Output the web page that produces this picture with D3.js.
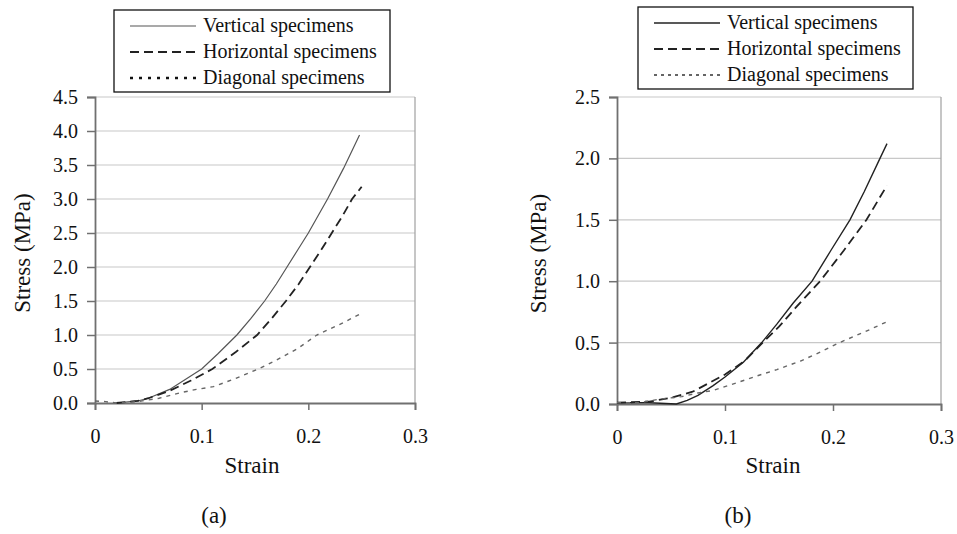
<!DOCTYPE html>
<html>
<head>
<meta charset="utf-8">
<script src="https://cdn.jsdelivr.net/npm/d3@7"></script>
</head>
<body style="margin:0; background:#fff">
<svg id="chart" width="957" height="534"></svg>
<script>
const seriesNames = ["Vertical specimens", "Horizontal specimens", "Diagonal specimens"];
const xTicks = [0, 0.1, 0.2, 0.3];

// panel (a)
const vertA = [[0.02,0],[0.04,0.03],[0.05,0.07],[0.07,0.2],[0.085,0.35],[0.1,0.5],[0.115,0.72],[0.133,1.0],[0.146,1.24],[0.159,1.5],[0.17,1.75],[0.18,2.0],[0.19,2.25],[0.2,2.5],[0.209,2.75],[0.218,3.0],[0.233,3.45],[0.248,3.94]];
const horA = [[0.02,0],[0.04,0.03],[0.05,0.07],[0.07,0.18],[0.09,0.33],[0.11,0.5],[0.132,0.75],[0.152,1.0],[0.166,1.25],[0.179,1.5],[0.191,1.75],[0.2015,2.0],[0.212,2.25],[0.222,2.5],[0.232,2.75],[0.241,3.0],[0.25,3.18]];
const diagA = [[0,0.03],[0.01,0.02],[0.02,0],[0.04,0.02],[0.06,0.07],[0.08,0.15],[0.095,0.2],[0.111,0.24],[0.13,0.35],[0.153,0.5],[0.17,0.63],[0.19,0.8],[0.208,1.0],[0.23,1.16],[0.25,1.32]];
const yTicksA = [0, 0.5, 1.0, 1.5, 2.0, 2.5, 3.0, 3.5, 4.0, 4.5];

// panel (b)
const vertB = [[0,0.01],[0.03,0.01],[0.055,0.0],[0.065,0.03],[0.075,0.07],[0.089,0.15],[0.1,0.22],[0.117,0.34],[0.134,0.5],[0.148,0.65],[0.163,0.82],[0.1806,1.0],[0.198,1.25],[0.2157,1.5],[0.229,1.73],[0.2435,2.0],[0.25,2.12]];
const horB = [[0,0.01],[0.03,0.02],[0.05,0.05],[0.07,0.1],[0.085,0.17],[0.1,0.24],[0.118,0.35],[0.135,0.5],[0.15,0.63],[0.165,0.78],[0.188,1.0],[0.21,1.25],[0.231,1.5],[0.25,1.78]];
const diagB = [[0,0.01],[0.02,0.01],[0.04,0.04],[0.06,0.06],[0.075,0.09],[0.089,0.11],[0.11,0.17],[0.13,0.23],[0.148,0.28],[0.17,0.35],[0.19,0.43],[0.206,0.5],[0.23,0.59],[0.25,0.67]];
const yTicksB = [0, 0.5, 1.0, 1.5, 2.0, 2.5];

const svg = d3.select("#chart");

function txt(sel, size) {
  return sel.attr("font-family", "Liberation Serif").attr("font-size", size).attr("fill", "#111");
}

function drawPanel(cfg) {
  const x = d3.scaleLinear().domain([0, 0.3]).range([cfg.left, cfg.right]);
  const y = d3.scaleLinear().domain([0, cfg.yMax]).range([cfg.bottom, cfg.top]);
  const g = svg.append("g");

  // gridlines
  g.selectAll(".grid").data(cfg.yTicks.filter(d => d > 0))
    .join("line")
    .attr("x1", cfg.left).attr("x2", cfg.right)
    .attr("y1", d => y(d)).attr("y2", d => y(d))
    .attr("stroke", "#c8c8c8").attr("stroke-width", 1.2);
  // plot border right
  g.append("line").attr("x1", cfg.right).attr("x2", cfg.right)
    .attr("y1", cfg.top).attr("y2", cfg.bottom)
    .attr("stroke", "#a0a0a0").attr("stroke-width", 1.2);

  const yAxis = d3.axisLeft(y).tickValues(cfg.yTicks).tickFormat(d3.format(".1f")).tickSize(8).tickPadding(9);
  const xAxis = d3.axisBottom(x).tickValues(xTicks).tickFormat(d => d === 0 ? "0" : d3.format(".1f")(d)).tickSize(7).tickPadding(19);

  const ya = g.append("g").attr("transform", `translate(${cfg.left},0)`).call(yAxis);
  const xa = g.append("g").attr("transform", `translate(0,${cfg.bottom})`).call(xAxis);
  [ya, xa].forEach(a => {
    a.attr("font-family", "Liberation Serif").attr("font-size", 20);
    a.select(".domain").attr("stroke", "#707070").attr("stroke-width", 1.8);
    a.selectAll(".tick line").attr("stroke", "#707070").attr("stroke-width", 1.5);
    txt(a.selectAll("text"), 20);
  });

  const line = d3.line().x(d => x(d[0])).y(d => y(d[1]));
  const styles = cfg.styles;
  [cfg.vert, cfg.hor, cfg.diag].forEach((data, i) => {
    g.append("path").datum(data).attr("d", line)
      .attr("fill", "none")
      .attr("stroke", styles[i].color)
      .attr("stroke-width", styles[i].width)
      .attr("stroke-dasharray", styles[i].dash);
  });

  // axis titles
  txt(g.append("text").attr("x", cfg.strainX).attr("y", 473)
    .attr("text-anchor", "middle").text("Strain"), 23);
  txt(g.append("text").attr("transform", `translate(${cfg.ytitleX},${(cfg.top + cfg.bottom) / 2 + 3}) rotate(-90)`)
    .attr("text-anchor", "middle").text("Stress (MPa)"), 23);
  txt(g.append("text").attr("x", cfg.capX).attr("y", 523)
    .attr("text-anchor", "middle").text(cfg.caption), 23);

  // legend
  const lg = g.append("g");
  lg.append("rect").attr("x", cfg.legX).attr("y", cfg.legY).attr("width", cfg.legW).attr("height", cfg.legH)
    .attr("fill", "#fff").attr("stroke", "#111").attr("stroke-width", 1.3);
  seriesNames.forEach((name, i) => {
    const cy = cfg.legY + 16 + i * 26;
    lg.append("line").attr("x1", cfg.legX + 16).attr("x2", cfg.legX + 82)
      .attr("y1", cy).attr("y2", cy)
      .attr("stroke", styles[i].legColor || styles[i].color)
      .attr("stroke-width", styles[i].legWidth || styles[i].width)
      .attr("stroke-dasharray", styles[i].legDash || styles[i].dash);
    txt(lg.append("text").attr("x", cfg.legX + 89).attr("y", cy + 6).text(name), 20);
  });
}

drawPanel({
  left: 95, right: 415, top: 97, bottom: 403, yMax: 4.5, yTicks: yTicksA,
  vert: vertA, hor: horA, diag: diagA,
  ytitleX: 30, strainX: 252, capX: 214, caption: "(a)",
  legX: 114, legY: 10, legW: 276, legH: 82,
  styles: [
    { color: "#555", width: 1.2, dash: null },
    { color: "#222", width: 1.8, dash: "9,5" },
    { color: "#666", width: 1.4, dash: "4,5", legColor: "#111", legWidth: 2.6, legDash: "3,6" }
  ]
});

drawPanel({
  left: 617, right: 941, top: 97, bottom: 404, yMax: 2.5, yTicks: yTicksB,
  vert: vertB, hor: horB, diag: diagB,
  ytitleX: 546, strainX: 773, capX: 738, caption: "(b)",
  legX: 638, legY: 7, legW: 275, legH: 82,
  styles: [
    { color: "#222", width: 1.4, dash: null },
    { color: "#222", width: 1.8, dash: "9,5" },
    { color: "#666", width: 1.4, dash: "4,5", legColor: "#333", legWidth: 1.3, legDash: "3,4" }
  ]
});
</script>
</body>
</html>
